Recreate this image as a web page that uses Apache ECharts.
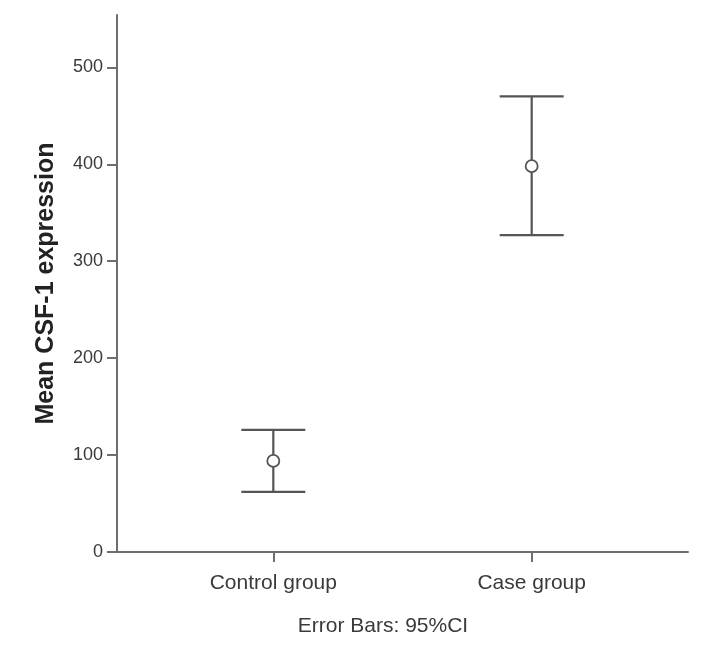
<!DOCTYPE html>
<html>
<head>
<meta charset="utf-8">
<script src="https://cdn.jsdelivr.net/npm/echarts@6/dist/echarts.min.js"></script>
<style>html,body{margin:0;padding:0;background:#fff}#c{width:719px;height:645px}</style>
</head>
<body>
<div id="c"></div>
<script>
var categories = ['Control group', 'Case group'];
var means = [94, 398];
var lowerCI = [62, 327];
var upperCI = [126, 470];
var yTicks = [0, 100, 200, 300, 400, 500];
var footnote = 'Error Bars: 95%CI';

var chart = echarts.init(document.getElementById('c'));
var FONT = '"Liberation Sans", Arial, sans-serif';
var barData = categories.map(function (c, i) { return [i, lowerCI[i], upperCI[i], means[i]]; });

chart.setOption({
  animation: false,
  backgroundColor: '#fff',
  grid: { left: 117, right: 31, top: 15, bottom: 93 },
  xAxis: {
    type: 'value', min: -0.605, max: 1.605,
    splitLine: { show: false },
    axisLine: { show: true, onZero: false, lineStyle: { color: '#6e6e6e', width: 2 } },
    axisTick: { show: true, length: 10, customValues: [0, 1], lineStyle: { color: '#6e6e6e', width: 2 } },
    axisLabel: {
      customValues: [0, 1], margin: 21,
      fontFamily: FONT, fontSize: 21, color: '#3a3a3a',
      formatter: function (v) { return categories[Math.round(v)] || ''; }
    }
  },
  yAxis: {
    type: 'value', min: 0, max: 554,
    name: 'Mean CSF-1 expression', nameLocation: 'middle', nameGap: 58,
    nameTextStyle: { fontFamily: FONT, fontSize: 25, fontWeight: 'bold', color: '#222' },
    splitLine: { show: false },
    axisLine: { show: true, onZero: false, lineStyle: { color: '#6e6e6e', width: 2 } },
    axisTick: { show: true, length: 10, customValues: yTicks, lineStyle: { color: '#6e6e6e', width: 2 } },
    axisLabel: { customValues: yTicks, margin: 14, fontFamily: FONT, fontSize: 18, color: '#3a3a3a' }
  },
  graphic: [{
    type: 'text', x: 383, y: 616,
    style: { text: footnote, fontFamily: FONT, fontSize: 21, fill: '#3a3a3a', align: 'center', textAlign: 'center' }
  }],
  series: [{
    type: 'custom',
    data: barData,
    renderItem: function (params, api) {
      var x = api.value(0);
      var lo = api.coord([x, api.value(1)]);
      var hi = api.coord([x, api.value(2)]);
      var mid = api.coord([x, api.value(3)]);
      var hw = 32, r = 6;
      var st = { stroke: '#555', lineWidth: 2.2 };
      return {
        type: 'group',
        children: [
          { type: 'line', shape: { x1: hi[0], y1: hi[1], x2: hi[0], y2: mid[1] - r }, style: st },
          { type: 'line', shape: { x1: lo[0], y1: mid[1] + r, x2: lo[0], y2: lo[1] }, style: st },
          { type: 'line', shape: { x1: hi[0] - hw, y1: hi[1], x2: hi[0] + hw, y2: hi[1] }, style: st },
          { type: 'line', shape: { x1: lo[0] - hw, y1: lo[1], x2: lo[0] + hw, y2: lo[1] }, style: st },
          { type: 'circle', shape: { cx: mid[0], cy: mid[1], r: r }, style: { stroke: '#555', lineWidth: 1.8, fill: 'none' } }
        ]
      };
    }
  }]
});
</script>
</body>
</html>
